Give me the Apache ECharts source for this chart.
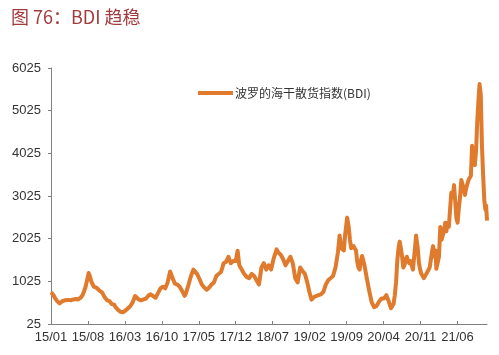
<!DOCTYPE html>
<html>
<head>
<meta charset="utf-8">
<script src="https://cdn.jsdelivr.net/npm/echarts@6/dist/echarts.min.js"></script>
<style>
  html, body { margin: 0; padding: 0; background: #fff; }
  #chart { width: 499px; height: 355px; }
</style>
</head>
<body>
<div id="chart"></div>
<script>
const titleText = "图 76：BDI 趋稳";
const seriesName = "波罗的海干散货指数(BDI)";
const xLabels = ["15/01", "15/08", "16/03", "16/10", "17/05", "17/12", "18/07",
  "19/02", "19/09", "20/04", "20/11", "21/06"];
const yTicks = [25, 1025, 2025, 3025, 4025, 5025, 6025];

// weekly-ish BDI readings
const dates = [
  "2015-01-02", "2015-01-09", "2015-01-16", "2015-01-23", "2015-01-30", "2015-02-06", "2015-02-13", "2015-02-18",
  "2015-02-27", "2015-03-06", "2015-03-13", "2015-03-20", "2015-03-31", "2015-04-10", "2015-04-24", "2015-05-08",
  "2015-05-22", "2015-06-05", "2015-06-19", "2015-06-30", "2015-07-10", "2015-07-17", "2015-07-24", "2015-07-31",
  "2015-08-05", "2015-08-12", "2015-08-21", "2015-08-28", "2015-09-04", "2015-09-11", "2015-09-18", "2015-09-25",
  "2015-10-09", "2015-10-23", "2015-11-06", "2015-11-20", "2015-12-04", "2015-12-18", "2015-12-31",
  "2016-01-08", "2016-01-15", "2016-01-22", "2016-02-05", "2016-02-10", "2016-02-19", "2016-03-04", "2016-03-18",
  "2016-04-01", "2016-04-15", "2016-04-29", "2016-05-06", "2016-05-20", "2016-06-03", "2016-06-17", "2016-07-01",
  "2016-07-15", "2016-07-29", "2016-08-12", "2016-08-26", "2016-09-09", "2016-09-23", "2016-10-07", "2016-10-21",
  "2016-11-04", "2016-11-18", "2016-11-25", "2016-12-02", "2016-12-16", "2016-12-30",
  "2017-01-13", "2017-01-27", "2017-02-10", "2017-02-17", "2017-03-03", "2017-03-17", "2017-03-31", "2017-04-07",
  "2017-04-21", "2017-05-05", "2017-05-19", "2017-06-02", "2017-06-16", "2017-06-30", "2017-07-14", "2017-07-28",
  "2017-08-11", "2017-08-25", "2017-09-08", "2017-09-22", "2017-10-06", "2017-10-20", "2017-11-03", "2017-11-17",
  "2017-12-01", "2017-12-12", "2017-12-22",
  "2018-01-05", "2018-01-19", "2018-02-02", "2018-02-16", "2018-03-02", "2018-03-16", "2018-03-30", "2018-04-13",
  "2018-04-27", "2018-05-11", "2018-05-25", "2018-06-08", "2018-06-22", "2018-07-06", "2018-07-24", "2018-08-03",
  "2018-08-17", "2018-08-31", "2018-09-14", "2018-09-28", "2018-10-12", "2018-10-26", "2018-11-09", "2018-11-23",
  "2018-12-07", "2018-12-21",
  "2019-01-04", "2019-01-18", "2019-02-01", "2019-02-11", "2019-02-22", "2019-03-08", "2019-03-22", "2019-04-05",
  "2019-04-19", "2019-05-03", "2019-05-17", "2019-05-31", "2019-06-14", "2019-06-28", "2019-07-12", "2019-07-22",
  "2019-08-02", "2019-08-16", "2019-08-23", "2019-09-04", "2019-09-13", "2019-09-20", "2019-09-27", "2019-10-11",
  "2019-10-25", "2019-11-01", "2019-11-08", "2019-11-15", "2019-11-22", "2019-11-29", "2019-12-13", "2019-12-27",
  "2020-01-10", "2020-01-24", "2020-02-07", "2020-02-10", "2020-02-21", "2020-03-06", "2020-03-20", "2020-04-03",
  "2020-04-17", "2020-04-24", "2020-05-01", "2020-05-14", "2020-05-22", "2020-05-29", "2020-06-05", "2020-06-12",
  "2020-06-19", "2020-06-26", "2020-07-03", "2020-07-10", "2020-07-17", "2020-07-24", "2020-07-31", "2020-08-07",
  "2020-08-14", "2020-08-21", "2020-08-28", "2020-09-04", "2020-09-11", "2020-09-18", "2020-09-25", "2020-10-02",
  "2020-10-06", "2020-10-16", "2020-10-23", "2020-10-30", "2020-11-06", "2020-11-13", "2020-11-20", "2020-11-27",
  "2020-12-04", "2020-12-11", "2020-12-18", "2020-12-24",
  "2021-01-08", "2021-01-13", "2021-01-20", "2021-01-27", "2021-02-01", "2021-02-08", "2021-02-15", "2021-02-22",
  "2021-03-01", "2021-03-08", "2021-03-15", "2021-03-22", "2021-03-29", "2021-04-05", "2021-04-12", "2021-04-19",
  "2021-04-26", "2021-05-04", "2021-05-12", "2021-05-19", "2021-05-26", "2021-06-02", "2021-06-09", "2021-06-16",
  "2021-06-23", "2021-06-30", "2021-07-07", "2021-07-14", "2021-07-21", "2021-07-28", "2021-08-04", "2021-08-11",
  "2021-08-18", "2021-08-25", "2021-09-01", "2021-09-10", "2021-09-17", "2021-09-24", "2021-10-01", "2021-10-07",
  "2021-10-14", "2021-10-21", "2021-10-28", "2021-11-04", "2021-11-10", "2021-11-14", "2021-11-19"
];
const bdi = [
  771, 730, 700, 640, 625, 560, 520, 509,
  530, 560, 570, 580, 600, 590, 580, 600,
  610, 600, 640, 700, 800, 880, 1000, 1120,
  1222, 1150, 1020, 960, 900, 940, 880, 850,
  800, 760, 650, 580, 560, 490, 478,
  420, 390, 360, 310, 290, 300, 340, 390,
  440, 530, 680, 650, 600, 580, 600, 620,
  690, 720, 680, 640, 750, 860, 900, 860,
  1000, 1257, 1180, 1100, 970, 950,
  900, 800, 685, 750, 950, 1150, 1300, 1338,
  1200, 1080, 950, 880, 830, 880, 950, 1000,
  1150, 1200, 1250, 1450, 1480, 1600, 1450, 1500,
  1500, 1743, 1400,
  1300, 1200, 1130, 1100, 1200, 1150, 1050, 950,
  1350, 1450, 1300, 1400, 1300, 1550, 1774, 1700,
  1650, 1550, 1400, 1500, 1600, 1450, 1100, 1000,
  1350, 1270,
  1200, 1000, 750, 595, 650, 680, 700, 720,
  780, 950, 1050, 1100, 1150, 1350, 1700, 2100,
  1800, 1750, 2100, 2518, 2300, 2000, 1800, 1850,
  1750, 1500, 1350, 1300, 1500, 1620, 1400, 1090,
  800, 540, 420, 411, 450, 550, 620, 620,
  700, 620, 550, 393, 420, 500, 700, 1000,
  1500, 1800, 1956, 1800, 1600, 1350, 1400, 1550,
  1600, 1500, 1450, 1500, 1400, 1300, 1600, 1900,
  2097, 1800, 1450, 1300, 1200, 1150, 1100, 1150,
  1200, 1250, 1300, 1350,
  1750, 1850, 1600, 1750, 1320, 1350, 1600, 2300,
  2000, 2100, 2200, 2400, 2200, 2400, 2300, 2700,
  3100, 3000, 3280, 2900, 2500, 2400, 2750, 3000,
  3400, 3300, 3200, 3050, 3200, 3300, 3400, 3450,
  3500, 4200, 3900, 3750, 4100, 4800, 5300, 5650,
  5400, 4200, 3500, 2900, 2700, 2800, 2450
];

// months elapsed since 2015-01 (fractional)
function monthIndex(d) {
  const [y, m, day] = d.split("-").map(Number);
  const dim = new Date(y, m, 0).getDate();
  return (y - 2015) * 12 + (m - 1) + (day - 1) / dim;
}

const points = dates.map((d, i) => [monthIndex(d), bdi[i]]);

const chart = echarts.init(document.getElementById("chart"));
chart.setOption({
  animation: false,
  title: {
    text: titleText,
    left: 6,
    top: 3,
    textStyle: { color: "#a33a3d", fontSize: 18, fontWeight: "normal", fontFamily: "Noto Sans CJK SC" },
  },
  legend: {
    left: 193,
    top: 82,
    itemWidth: 35,
    itemHeight: 4,
    itemGap: 2,
    icon: "rect",
    textStyle: { color: "#333", fontSize: 12, fontFamily: "Noto Sans CJK SC", padding: [0, 0, 0, -3] },
    data: [seriesName],
  },
  grid: { left: 51, right: 12, top: 68, bottom: 31, containLabel: false },
  xAxis: {
    type: "value",
    min: 0,
    max: 82.6,
    interval: 7,
    axisLine: { lineStyle: { color: "#808080", width: 1 } },
    axisTick: { show: true, inside: true, length: 3, lineStyle: { color: "#808080" } },
    axisLabel: {
      color: "#333",
      fontSize: 13,
      margin: 7,
      fontFamily: "Liberation Sans",
      showMaxLabel: false,
      formatter: (v) => xLabels[Math.round(v / 7)] || "",
    },
    splitLine: { show: false },
  },
  yAxis: {
    type: "value",
    min: yTicks[0],
    max: yTicks[yTicks.length - 1],
    interval: 1000,
    axisLine: { show: true, lineStyle: { color: "#808080", width: 1 } },
    axisTick: { show: true, length: 3, lineStyle: { color: "#808080" } },
    axisLabel: {
      color: "#333",
      fontSize: 13,
      margin: 10,
      fontFamily: "Liberation Sans",
      formatter: (v) => String(v),
    },
    splitLine: { show: false },
  },
  series: [
    {
      name: seriesName,
      type: "line",
      data: points,
      showSymbol: false,
      symbol: "none",
      lineStyle: { color: "#e07a2c", width: 4, join: "round" },
      itemStyle: { color: "#e07a2c" },
    },
  ],
});
</script>
</body>
</html>
